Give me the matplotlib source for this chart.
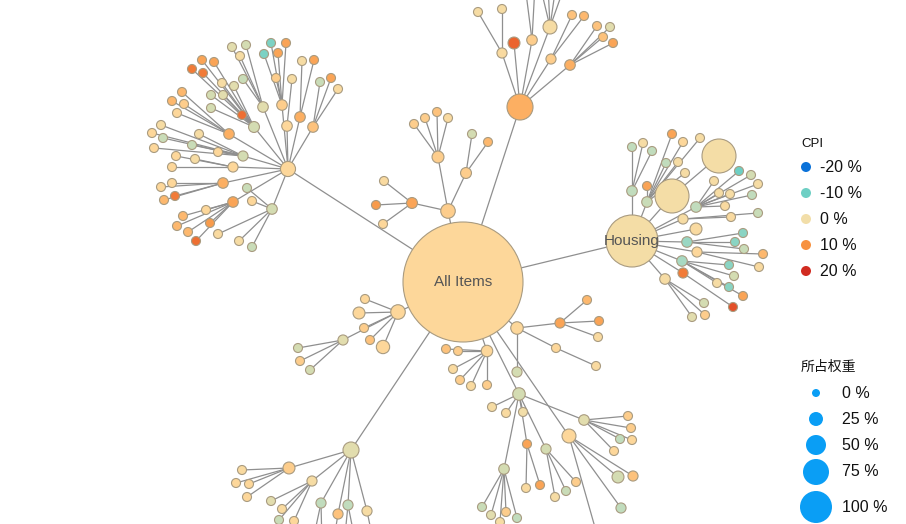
"""Radial CPI tree: node colour = CPI change, node size = weight (所占权重)."""

import numpy as np
import matplotlib
matplotlib.use("Agg")
import matplotlib.pyplot as plt
from matplotlib.colors import LinearSegmentedColormap, Normalize
from matplotlib.patches import Circle

# each node: (id, parent id, x, y of the force layout in px, weight %, CPI %)
ROOT = [("all", None, 463, 282, 100, 3)]

LEVEL1 = [
    ("A", "all", 288, 169, 0.3, 3),
    ("B", "all", 520, 107, 2.35, 7),
    ("C", "all", 448, 211, 0.25, 4),
    ("housing", "all", 632, 241, 15.0, 0.5),
    ("D", "all", 398, 312, 0.25, 3),
    ("E", "all", 351, 450, 0.4, -1),
    ("F", "all", 517, 328, 0.1, 3),
    ("G", "all", 487, 351, 0.05, 3),
    ("H", "all", 569, 436, 0.2, 3),
    ("I", "all", 519, 394, 0.1, -2),
]

LEVEL2 = [
    ("a1", "A", 263, 107, 0.02, -1), ("a2", "A", 282, 105, 0.02, 4),
    ("a3", "A", 287, 126, 0.02, 3), ("a4", "A", 300, 117, 0.02, 7),
    ("a5", "A", 313, 127, 0.02, 5), ("a6", "A", 254, 127, 0.03, -2),
    ("a7", "A", 229, 134, 0.02, 7), ("a8", "A", 243, 156, 0.01, -2),
    ("a9", "A", 233, 167, 0.01, 3), ("a10", "A", 223, 183, 0.02, 7),
    ("a11", "A", 233, 202, 0.02, 8), ("a12", "A", 272, 209, 0.02, -2),
    ("b1", "B", 502, 53, 0.01, 2), ("b2", "B", 514, 43, 0.07, 14),
    ("b3", "B", 532, 40, 0.02, 4), ("b4", "B", 550, 27, 0.2, 1),
    ("b5", "B", 551, 59, 0.01, 4), ("b6", "B", 570, 65, 0.02, 7),
    ("c1", "C", 438, 157, 0.07, 4), ("c2", "C", 466, 173, 0.03, 4),
    ("c3", "C", 412, 203, 0.03, 8),
    ("h1", "housing", 632, 191, 0.02, -4), ("h2", "housing", 647, 202, 0.02, -3),
    ("h3", "housing", 672, 196, 5.07, 0.5), ("h4", "housing", 696, 207, 0.02, -4),
    ("h5", "housing", 683, 219, 0.01, 1), ("h6", "housing", 696, 229, 0.07, 2),
    ("h7", "housing", 687, 242, 0.02, -7), ("h8", "housing", 697, 252, 0.01, 3),
    ("h9", "housing", 682, 261, 0.02, -6), ("h10", "housing", 683, 273, 0.01, 12),
    ("h11", "housing", 665, 279, 0.02, 1),
    ("d1", "D", 365, 299, 0, 3), ("d2", "D", 359, 313, 0.07, 3),
    ("d3", "D", 364, 328, 0, 4), ("d4", "D", 370, 340, 0, 5),
    ("d5", "D", 383, 347, 0.15, 3), ("d6", "D", 343, 340, 0.01, -1),
    ("e1", "E", 289, 468, 0.07, 4), ("e2", "E", 312, 481, 0.01, 1),
    ("e3", "E", 321, 503, 0.01, -4), ("e4", "E", 338, 514, 0.01, 5),
    ("e5", "E", 348, 505, 0.01, -4), ("e6", "E", 367, 511, 0.01, 1),
    ("f1", "F", 560, 323, 0.01, 8), ("f2", "F", 556, 348, 0, 3),
    ("f3", "F", 517, 372, 0.01, -2),
    ("g1", "G", 458, 351, 0, 4), ("g2", "G", 446, 349, 0, 5),
    ("g3", "G", 453, 369, 0, 2), ("g4", "G", 460, 380, 0, 4),
    ("g5", "G", 471, 386, 0, 2), ("g6", "G", 487, 385, 0, 4),
    ("k1", "H", 618, 477, 0.07, -2), ("k2", "H", 633, 476, 0.01, 5),
    ("k3", "H", 621, 508, 0.01, -4), ("k4", "H", 600, 545, 0, 2),
    ("i1", "I", 492, 407, 0, 1), ("i2", "I", 506, 413, 0, 2),
    ("i3", "I", 523, 412, 0, 0), ("i4", "I", 527, 444, 0, 8),
    ("i5", "I", 546, 449, 0.01, -2), ("i6", "I", 504, 469, 0.02, -2),
    ("i7", "I", 584, 420, 0.02, -1),
]

LEVEL3_A = [
    ("a1", 232, 47, -1), ("a1", 240, 56, 1), ("a1", 246, 45, -2), ("a1", 243, 79, -3),
    ("a2", 271, 43, -9), ("a2", 264, 54, -9), ("a2", 286, 43, 8), ("a2", 278, 53, 8),
    ("a2", 276, 78, 4),
    ("a3", 292, 79, 1),
    ("a4", 302, 61, 1), ("a4", 314, 60, 8),
    ("a5", 320, 82, -3), ("a5", 331, 78, 8), ("a5", 338, 89, 2),
    ("a6", 192, 69, 12), ("a6", 202, 60, 8), ("a6", 214, 62, 8), ("a6", 203, 73, 12),
    ("a6", 222, 83, 1), ("a6", 234, 86, -1), ("a6", 211, 95, -2), ("a6", 223, 95, -1),
    ("a6", 211, 108, -2), ("a6", 242, 115, 13),
    ("a7", 182, 92, 6), ("a7", 172, 101, 6), ("a7", 184, 104, 4), ("a7", 177, 113, 3),
    ("a8", 161, 125, 1), ("a8", 152, 133, 3), ("a8", 163, 138, -3), ("a8", 154, 148, 3),
    ("a8", 199, 134, 1), ("a8", 192, 145, -3), ("a8", 218, 152, 3),
    ("a9", 176, 156, 3), ("a9", 195, 159, 1), ("a9", 172, 167, 3),
    ("a10", 161, 187, 3), ("a10", 172, 183, 3), ("a10", 164, 200, 6), ("a10", 175, 196, 12),
    ("a11", 206, 210, 3), ("a11", 183, 216, 6), ("a11", 210, 223, 9), ("a11", 177, 226, 6),
    ("a11", 188, 232, 6), ("a11", 196, 241, 13),
    ("a12", 247, 188, -3), ("a12", 252, 201, 3), ("a12", 218, 234, 2),
    ("a12", 239, 241, 1), ("a12", 252, 247, -3),
]

LEVEL3_B = [
    ("b1", 478, 12, 1), ("b1", 502, 9, 1),
    ("b3", 525, -15, 3), ("b3", 535, -15, 2),
    ("b4", 540, -15, 3), ("b4", 548, -15, 1), ("b4", 556, -15, 3), ("b4", 565, -15, 2),
    ("b5", 572, 15, 5), ("b5", 584, 16, 6),
    ("b6", 597, 26, 5), ("b6", 610, 27, -1), ("b6", 603, 37, 5), ("b6", 613, 43, 8),
    ("c1", 414, 124, 4), ("c1", 425, 118, 4), ("c1", 437, 112, 5), ("c1", 448, 118, 2),
    ("c2", 472, 134, -2), ("c2", 488, 142, 6),
    ("c3", 384, 181, 2), ("c3", 376, 205, 9), ("c3", 383, 224, 3),
]

LEVEL3_HOUSING = [
    ("h1", 632, 147, -4), ("h1", 643, 143, 1), ("h1", 652, 151, -4),
    ("h2", 672, 134, 8), ("h2", 683, 142, 3), ("h2", 666, 163, -4), ("h2", 678, 162, 1),
    ("h2", 647, 186, 8), ("h2", 685, 173, 1), ("h2", 700, 138, 1),
    ("h4", 739, 171, -10), ("h4", 751, 175, -2), ("h4", 714, 181, 1), ("h4", 758, 184, 1),
    ("h4", 719, 193, 1), ("h4", 730, 194, 1), ("h4", 752, 195, -4), ("h4", 725, 206, 2),
    ("h5", 731, 217, 2), ("h5", 758, 213, -3),
    ("h7", 743, 233, -8), ("h7", 735, 242, -8), ("h7", 744, 249, -3),
    ("h8", 763, 254, 6), ("h8", 759, 267, 2),
    ("h9", 729, 265, -8), ("h9", 734, 276, -2), ("h9", 717, 283, 1), ("h9", 729, 287, -8),
    ("h9", 743, 296, 8),
    ("h10", 733, 307, 16),
    ("h11", 704, 303, -2), ("h11", 705, 315, 4), ("h11", 692, 317, -1),
]

LEVEL3_BOTTOM = [
    ("d6", 298, 348, -2), ("d6", 300, 361, 4), ("d6", 310, 370, -2),
    ("e1", 242, 470, 2), ("e1", 236, 483, 3), ("e1", 249, 484, 3), ("e1", 247, 497, 3),
    ("e2", 271, 501, -1), ("e2", 282, 509, 2), ("e2", 279, 520, -3), ("e2", 294, 521, 3),
    ("e3", 312, 545, 0), ("e3", 322, 545, 0), ("e4", 333, 545, 2),
    ("e5", 344, 545, -2), ("e5", 356, 545, 1), ("e6", 374, 545, 1),
    ("f1", 587, 300, 6), ("f1", 599, 321, 8), ("f1", 598, 337, 2),
    ("f2", 596, 366, 2),
    ("i4", 526, 488, 2), ("i4", 540, 485, 8),
    ("i5", 576, 482, 4), ("i5", 566, 491, -3), ("i5", 555, 497, 1),
    ("i6", 482, 507, -3), ("i6", 491, 515, -1), ("i6", 506, 512, 4), ("i6", 517, 518, -4),
    ("i6", 500, 522, 1),
    ("i7", 628, 416, 4), ("i7", 631, 428, 4), ("i7", 620, 439, -4), ("i7", 632, 440, 3),
    ("i7", 614, 451, 3),
]

# the big second housing bubble hangs below h3
LEVEL3_BIG = [("h3", 719, 156, 5.07, 0.5)]

NODE_LABELS = {"all": "All Items", "housing": "Housing"}

CPI_STOPS = [-20, -10, -5, -2, 0, 3, 6, 10, 15, 20]
CPI_COLORS = ["#0b72d9", "#6dcfc4", "#b8dcc2", "#d3dcb2", "#f2dea9",
              "#fdd89b", "#fdb86e", "#f7923f", "#e8592a", "#d12b21"]
CPI_LEGEND = [-20, -10, 0, 10, 20]
WEIGHT_LEGEND = [0, 25, 50, 75, 100]


def radius(weight):
    return 4.5 + 55.5 * np.sqrt(weight / 100.0)


def build_nodes():
    nodes = {}
    for nid, parent, x, y, w, cpi in ROOT + LEVEL1 + LEVEL2:
        nodes[nid] = (parent, x, y, w, cpi)
    leaves = LEVEL3_A + LEVEL3_B + LEVEL3_HOUSING + LEVEL3_BOTTOM
    for k, (parent, x, y, cpi) in enumerate(leaves):
        nodes[f"leaf{k}"] = (parent, x, y, 0, cpi)
    for k, (parent, x, y, w, cpi) in enumerate(LEVEL3_BIG):
        nodes[f"big{k}"] = (parent, x, y, w, cpi)
    return nodes


def main():
    cmap = LinearSegmentedColormap.from_list(
        "cpi",
        [((s - CPI_STOPS[0]) / (CPI_STOPS[-1] - CPI_STOPS[0]), c)
         for s, c in zip(CPI_STOPS, CPI_COLORS)],
    )
    norm = Normalize(CPI_STOPS[0], CPI_STOPS[-1])
    fonts = ["Liberation Sans", "Noto Sans CJK SC", "DejaVu Sans"]

    fig = plt.figure(figsize=(9.06, 5.24), dpi=100)
    ax = fig.add_axes([0, 0, 1, 1])
    ax.set_xlim(0, 906)
    ax.set_ylim(524, 0)
    ax.axis("off")

    nodes = build_nodes()

    for nid, (parent, x, y, w, cpi) in nodes.items():
        if parent is None:
            continue
        _, px, py, _, _ = nodes[parent]
        ax.plot([px, x], [py, y], color="#8f8f8f", lw=0.9, zorder=1,
                solid_capstyle="butt")

    # larger bubbles first so small ones stay visible
    for nid, (parent, x, y, w, cpi) in sorted(nodes.items(), key=lambda kv: -kv[1][3]):
        ax.add_patch(Circle((x, y), radius(w), facecolor=cmap(norm(cpi)),
                            edgecolor="#a99b80", lw=0.8, zorder=2))
        if nid in NODE_LABELS:
            ax.text(x, y, NODE_LABELS[nid], ha="center", va="center",
                    fontsize=11, color="#555555", family=fonts, zorder=3)

    # CPI colour legend
    ax.text(801, 144, "CPI", fontsize=9.5, va="center", family=fonts, color="#111111")
    for k, val in enumerate(CPI_LEGEND):
        yy = 167 + 26 * k
        ax.add_patch(Circle((806, yy), 5, facecolor=cmap(norm(val)),
                            edgecolor="none", zorder=2))
        ax.text(820, yy, f"{val} %", fontsize=11.5, va="center",
                family=fonts, color="#111111")

    # weight size legend
    ax.text(801, 367, "所占权重", fontsize=10, va="center", family=fonts, color="#111111")
    legend_y = [393, 419, 445, 472, 507]
    for val, yy in zip(WEIGHT_LEGEND, legend_y):
        ax.add_patch(Circle((816, yy), 4 + 0.12 * val, facecolor="#0a9ef5",
                            edgecolor="none", zorder=2))
        ax.text(842, yy, f"{val} %", fontsize=11.5, va="center",
                family=fonts, color="#111111")

    fig.savefig("out.png", dpi=100)
    plt.close(fig)


if __name__ == "__main__":
    main()
